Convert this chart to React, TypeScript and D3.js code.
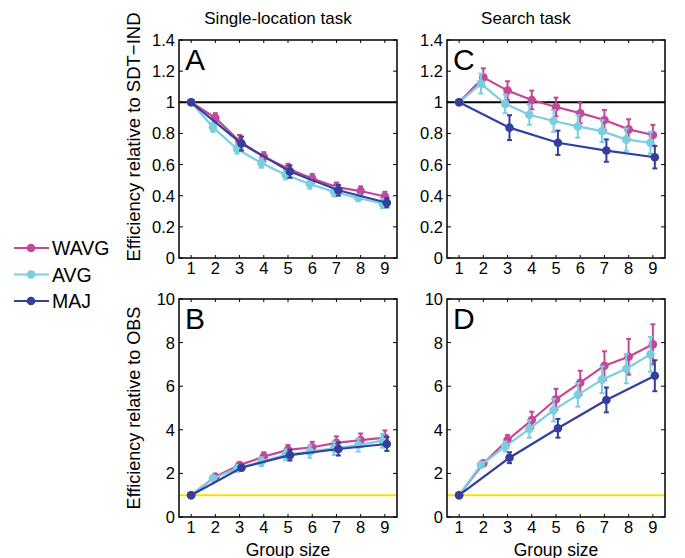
import * as d3 from 'd3';
import { useEffect, useRef } from 'react';

const groupSizes = [1, 2, 3, 4, 5, 6, 7, 8, 9];
const majSizes = [1, 3, 5, 7, 9];

// Panel A: single-location, efficiency relative to SDT-IND
const wavgA = [1, 0.9, 0.75, 0.65, 0.575, 0.51, 0.455, 0.43, 0.395];
const wavgAErr = [0, 0.03, 0.04, 0.03, 0.03, 0.03, 0.03, 0.03, 0.03];
const avgA = [1, 0.84, 0.7, 0.61, 0.535, 0.475, 0.425, 0.385, 0.35];
const avgAErr = [0, 0.03, 0.03, 0.03, 0.03, 0.03, 0.03, 0.02, 0.03];
const majA = [1, 0.735, 0.555, 0.435, 0.355];
const majAErr = [0, 0.045, 0.04, 0.035, 0.03];

// Panel C: search, efficiency relative to SDT-IND
const wavgC = [1, 1.16, 1.075, 1.015, 0.97, 0.93, 0.886, 0.826, 0.79];
const wavgCErr = [0, 0.058, 0.06, 0.06, 0.06, 0.065, 0.065, 0.065, 0.065];
const avgC = [1, 1.12, 0.99, 0.92, 0.88, 0.845, 0.815, 0.76, 0.74];
const avgCErr = [0, 0.064, 0.06, 0.064, 0.07, 0.072, 0.07, 0.072, 0.07];
const majC = [1, 0.837, 0.74, 0.69, 0.647];
const majCErr = [0, 0.08, 0.078, 0.072, 0.072];

// Panel B: single-location, efficiency relative to OBS
const wavgB = [1, 1.85, 2.38, 2.77, 3.08, 3.2, 3.4, 3.53, 3.64];
const wavgBErr = [0, 0.08, 0.12, 0.2, 0.22, 0.25, 0.3, 0.3, 0.33];
const avgB = [1, 1.77, 2.23, 2.54, 2.85, 3.0, 3.15, 3.3, 3.5];
const avgBErr = [0, 0.1, 0.15, 0.2, 0.25, 0.28, 0.3, 0.3, 0.32];
const majB = [1, 2.26, 2.84, 3.12, 3.35];
const majBErr = [0, 0.12, 0.25, 0.3, 0.32];

// Panel D: search, efficiency relative to OBS
const wavgD = [1, 2.46, 3.53, 4.45, 5.4, 6.16, 6.94, 7.35, 7.92];
const wavgDErr = [0, 0.1, 0.23, 0.38, 0.48, 0.55, 0.66, 0.82, 0.92];
const avgD = [1, 2.39, 3.23, 4.04, 4.9, 5.6, 6.3, 6.8, 7.46];
const avgDErr = [0, 0.1, 0.23, 0.4, 0.52, 0.54, 0.61, 0.67, 0.8];
const majD = [1, 2.72, 4.07, 5.37, 6.48];
const majDErr = [0, 0.25, 0.43, 0.57, 0.71];

const ratioTicks = [0, 0.2, 0.4, 0.6, 0.8, 1, 1.2, 1.4];
const obsTicks = [0, 2, 4, 6, 8, 10];

const seriesNames = ['WAVG', 'AVG', 'MAJ'];
const colors = { WAVG: '#c4479b', AVG: '#7bcde0', MAJ: '#343f9b' };
const xShift = { WAVG: 0, AVG: -0.1, MAJ: 0.08 };

const FONT = '"Liberation Sans", Arial, Helvetica, sans-serif';

const panels = [
  { letter: 'A', left: 179, top: 40, yMax: 1.4, ticks: ratioTicks, refColor: '#000000',
    series: [[groupSizes, wavgA, wavgAErr], [groupSizes, avgA, avgAErr], [majSizes, majA, majAErr]] },
  { letter: 'C', left: 447, top: 40, yMax: 1.4, ticks: ratioTicks, refColor: '#000000',
    series: [[groupSizes, wavgC, wavgCErr], [groupSizes, avgC, avgCErr], [majSizes, majC, majCErr]] },
  { letter: 'B', left: 179, top: 299, yMax: 10, ticks: obsTicks, refColor: '#f2e300',
    series: [[groupSizes, wavgB, wavgBErr], [groupSizes, avgB, avgBErr], [majSizes, majB, majBErr]] },
  { letter: 'D', left: 447, top: 299, yMax: 10, ticks: obsTicks, refColor: '#f2e300',
    series: [[groupSizes, wavgD, wavgDErr], [groupSizes, avgD, avgDErr], [majSizes, majD, majDErr]] },
];

const SIZE = 218;

export default function App() {
  const ref = useRef(null);

  useEffect(() => {
    document.body.style.margin = '0';
    const svg = d3.select(ref.current);
    svg.selectAll('*').remove();
    svg.attr('width', 685).attr('height', 558).style('display', 'block').style('background', '#fff');

    panels.forEach((p) => {
      const x = d3.scaleLinear().domain([0.5, 9.5]).range([0, SIZE]);
      const y = d3.scaleLinear().domain([0, p.yMax]).range([SIZE, 0]);
      const g = svg.append('g').attr('transform', `translate(${p.left},${p.top})`);

      // reference line at 1
      g.append('line')
        .attr('x1', 0).attr('x2', SIZE)
        .attr('y1', y(1)).attr('y2', y(1))
        .attr('stroke', p.refColor).attr('stroke-width', 2);

      // inward ticks
      p.ticks.forEach((t) => {
        g.append('line').attr('x1', 0).attr('x2', 4).attr('y1', y(t)).attr('y2', y(t)).attr('stroke', '#000');
        g.append('line').attr('x1', SIZE - 4).attr('x2', SIZE).attr('y1', y(t)).attr('y2', y(t)).attr('stroke', '#000');
        g.append('text')
          .attr('x', -4).attr('y', y(t))
          .attr('text-anchor', 'end').attr('dominant-baseline', 'central')
          .style('font-family', FONT).style('font-size', '16.5px')
          .text(String(t));
      });
      groupSizes.forEach((t) => {
        g.append('line').attr('x1', x(t)).attr('x2', x(t)).attr('y1', SIZE).attr('y2', SIZE - 3).attr('stroke', '#000');
        g.append('line').attr('x1', x(t)).attr('x2', x(t)).attr('y1', 0).attr('y2', 3).attr('stroke', '#000');
        g.append('text')
          .attr('x', x(t)).attr('y', SIZE + 16)
          .attr('text-anchor', 'middle')
          .style('font-family', FONT).style('font-size', '16.5px')
          .text(String(t));
      });

      p.series.forEach(([xs, vals, errs], i) => {
        const name = seriesNames[i];
        const color = colors[name];
        const pts = xs.map((k, j) => ({ k: k + (j === 0 ? 0 : xShift[name]), v: vals[j], e: errs[j] }));
        const line = d3.line().x((d) => x(d.k)).y((d) => y(d.v));
        const sg = g.append('g');
        sg.append('path')
          .attr('d', line(pts))
          .attr('fill', 'none')
          .attr('stroke', color)
          .attr('stroke-width', 2.2);
        pts.filter((d) => d.e > 0).forEach((d) => {
          sg.append('line')
            .attr('x1', x(d.k)).attr('x2', x(d.k))
            .attr('y1', y(d.v - d.e)).attr('y2', y(d.v + d.e))
            .attr('stroke', color).attr('stroke-width', 2);
          [d.v - d.e, d.v + d.e].forEach((cv) => {
            sg.append('line')
              .attr('x1', x(d.k) - 2.5).attr('x2', x(d.k) + 2.5)
              .attr('y1', y(cv)).attr('y2', y(cv))
              .attr('stroke', color).attr('stroke-width', 2);
          });
        });
        sg.selectAll('circle')
          .data(pts)
          .enter()
          .append('circle')
          .attr('cx', (d) => x(d.k))
          .attr('cy', (d) => y(d.v))
          .attr('r', 4.3)
          .attr('fill', color);
      });

      g.append('rect')
        .attr('width', SIZE).attr('height', SIZE)
        .attr('fill', 'none').attr('stroke', '#000').attr('stroke-width', 1.5);

      g.append('text')
        .attr('x', 6).attr('y', 30)
        .style('font-family', FONT).style('font-size', '30px')
        .text(p.letter);
    });

    const addText = (txt, xPos, yPos, size, rotate = false) => {
      const t = svg.append('text')
        .attr('text-anchor', 'middle')
        .style('font-family', FONT)
        .style('font-size', `${size}px`)
        .text(txt);
      if (rotate) t.attr('transform', `translate(${xPos},${yPos}) rotate(-90)`);
      else t.attr('x', xPos).attr('y', yPos);
    };

    addText('Single-location task', 278, 24, 17);
    addText('Search task', 526, 24, 17);
    addText('Efficiency relative to SDT\u2212IND', 140, 137, 18.5, true);
    addText('Efficiency relative to OBS', 140, 408, 18, true);
    addText('Group size', 288, 556, 17.5);
    addText('Group size', 556, 556, 17.5);

    // legend
    seriesNames.forEach((name, i) => {
      const ly = 248 + i * 26.5;
      svg.append('line')
        .attr('x1', 14).attr('x2', 49).attr('y1', ly).attr('y2', ly)
        .attr('stroke', colors[name]).attr('stroke-width', 2.2);
      svg.append('circle').attr('cx', 31).attr('cy', ly).attr('r', 4.3).attr('fill', colors[name]);
      svg.append('text')
        .attr('x', 52).attr('y', ly + 7)
        .style('font-family', FONT).style('font-size', '19.5px')
        .text(name);
    });

    return () => {
      svg.selectAll('*').remove();
    };
  }, []);

  return <svg ref={ref} />;
}
